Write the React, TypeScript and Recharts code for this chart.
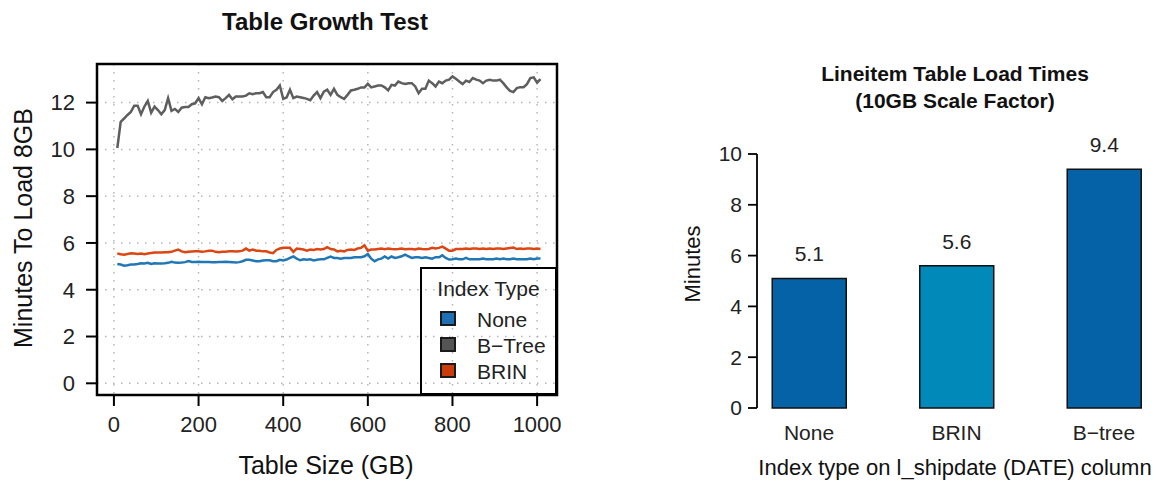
import React from 'react';
import {
  LineChart,
  Line,
  XAxis,
  YAxis,
  CartesianGrid,
  ReferenceArea,
  BarChart,
  Bar,
  Cell,
  LabelList,
} from 'recharts';

// ---------------- data: left chart ----------------
const tableSizes = [
  8, 16, 24, 32, 40, 48, 56, 64, 72, 80, 88, 96, 104, 112, 120, 128, 136, 144, 152, 160,
  168, 176, 184, 192, 200, 208, 216, 224, 232, 240, 248, 256, 264, 272, 280, 288, 296, 304, 312, 320,
  328, 336, 344, 352, 360, 368, 376, 384, 392, 400, 408, 416, 424, 432, 440, 448, 456, 464, 472, 480,
  488, 496, 504, 512, 520, 528, 536, 544, 552, 560, 568, 576, 584, 592, 600, 608, 616, 624, 632, 640,
  648, 656, 664, 672, 680, 688, 696, 704, 712, 720, 728, 736, 744, 752, 760, 768, 776, 784, 792, 800,
  808, 816, 824, 832, 840, 848, 856, 864, 872, 880, 888, 896, 904, 912, 920, 928, 936, 944, 952, 960,
  968, 976, 984, 992, 1000, 1008,
];

const noneMinutes = [
  5.1, 5.08, 5.03, 5.05, 5.08, 5.08, 5.1, 5.13, 5.12, 5.15, 5.1, 5.13, 5.12, 5.12, 5.13, 5.15, 5.19, 5.16, 5.15, 5.16,
  5.18, 5.23, 5.19, 5.19, 5.2, 5.19, 5.19, 5.19, 5.18, 5.18, 5.19, 5.19, 5.2, 5.19, 5.18, 5.16, 5.18, 5.22, 5.28, 5.28,
  5.25, 5.22, 5.22, 5.25, 5.26, 5.26, 5.22, 5.22, 5.28, 5.25, 5.29, 5.36, 5.42, 5.33, 5.26, 5.3, 5.28, 5.3, 5.25, 5.28,
  5.3, 5.3, 5.36, 5.42, 5.36, 5.36, 5.33, 5.36, 5.36, 5.36, 5.39, 5.39, 5.39, 5.43, 5.53, 5.33, 5.22, 5.3, 5.33, 5.42,
  5.33, 5.42, 5.36, 5.39, 5.43, 5.5, 5.43, 5.36, 5.39, 5.39, 5.36, 5.39, 5.36, 5.33, 5.39, 5.39, 5.47, 5.36, 5.29, 5.3,
  5.33, 5.3, 5.3, 5.36, 5.3, 5.3, 5.3, 5.3, 5.33, 5.3, 5.3, 5.3, 5.33, 5.3, 5.33, 5.3, 5.3, 5.33, 5.3, 5.3,
  5.3, 5.3, 5.33, 5.3, 5.33, 5.33,
];

const btreeMinutes = [
  10.06, 11.18, 11.32, 11.47, 11.6, 11.87, 11.87, 11.5, 11.83, 12.07, 11.57, 11.83, 11.68, 11.5, 11.68, 12.19, 11.65, 11.73, 11.6, 11.78,
  11.81, 11.81, 11.93, 11.97, 12.19, 11.93, 12.23, 12.19, 12.22, 12.26, 12.23, 12.07, 12.19, 12.33, 12.14, 12.26, 12.26, 12.26, 12.3, 12.4,
  12.36, 12.4, 12.4, 12.45, 12.23, 12.23, 12.45, 12.55, 12.73, 12.16, 12.22, 12.55, 12.19, 12.26, 12.23, 12.2, 12.16, 12.1, 12.3, 12.45,
  12.19, 12.47, 12.55, 12.33, 12.59, 12.33, 12.23, 12.16, 12.33, 12.52, 12.55, 12.59, 12.65, 12.65, 12.8, 12.65, 12.69, 12.73, 12.73, 12.65,
  12.52, 12.76, 12.73, 12.9, 12.83, 12.8, 12.83, 12.83, 12.69, 12.4, 12.59, 12.59, 12.94, 12.83, 12.69, 12.9, 12.83, 12.94, 12.98, 13.12,
  13.02, 12.9, 12.79, 12.94, 12.88, 13.05, 12.98, 12.94, 12.83, 12.94, 12.98, 12.94, 12.94, 12.98, 12.83, 12.65, 12.5, 12.45, 12.62, 12.66,
  12.66, 12.79, 13.05, 13.08, 12.85, 13.0,
];

const brinMinutes = [
  5.55, 5.52, 5.5, 5.53, 5.56, 5.55, 5.53, 5.55, 5.52, 5.55, 5.57, 5.59, 5.59, 5.59, 5.6, 5.6, 5.62, 5.67, 5.72, 5.64,
  5.6, 5.62, 5.63, 5.64, 5.64, 5.62, 5.64, 5.67, 5.67, 5.62, 5.6, 5.62, 5.62, 5.64, 5.64, 5.63, 5.64, 5.67, 5.76, 5.67,
  5.72, 5.67, 5.67, 5.64, 5.64, 5.59, 5.56, 5.7, 5.76, 5.79, 5.79, 5.79, 5.62, 5.76, 5.74, 5.72, 5.67, 5.72, 5.7, 5.74,
  5.72, 5.74, 5.82, 5.74, 5.72, 5.64, 5.67, 5.64, 5.7, 5.72, 5.7, 5.76, 5.79, 5.9, 5.67, 5.72, 5.72, 5.74, 5.76, 5.73,
  5.76, 5.74, 5.73, 5.74, 5.76, 5.73, 5.74, 5.74, 5.72, 5.76, 5.74, 5.73, 5.74, 5.79, 5.76, 5.79, 5.84, 5.76, 5.67, 5.67,
  5.74, 5.74, 5.74, 5.76, 5.74, 5.76, 5.76, 5.74, 5.76, 5.74, 5.76, 5.74, 5.76, 5.76, 5.74, 5.76, 5.78, 5.8, 5.74, 5.76,
  5.74, 5.76, 5.76, 5.74, 5.76, 5.74,
];

const seriesKeys = ['None', 'BTree', 'BRIN'];
const seriesNames = ['None', 'B\u2212Tree', 'BRIN'];
const sizeTicks = [0, 200, 400, 600, 800, 1000];
const minuteTicks = [0, 2, 4, 6, 8, 10, 12];

// ---------------- data: right chart ----------------
const indexTypes = ['None', 'BRIN', 'B\u2212tree'];
const loadMinutes = [5.1, 5.6, 9.4];
const barMinuteTicks = [0, 2, 4, 6, 8, 10];

// ---------------- styles ----------------
const FONT = '"Liberation Sans", Arial, Helvetica, sans-serif';
const lineColors: Record<string, string> = { None: '#2077b6', BTree: '#5e5e5e', BRIN: '#dc4613' };
const legendFill: Record<string, string> = { None: '#1f6fb3', BTree: '#555555', BRIN: '#cc3b0c' };
const barColors = ['#0562a6', '#0189b9', '#0562a6'];

const lineRows = tableSizes.map((s, i) => ({
  size: s,
  None: noneMinutes[i],
  BTree: btreeMinutes[i],
  BRIN: brinMinutes[i],
}));

const barRows = indexTypes.map((name, i) => ({ pos: i + 1, name, minutes: loadMinutes[i] }));

const T = ({ x, y, size, bold, rotate, children }: any) => (
  <div
    style={{
      position: 'absolute',
      left: x,
      top: y,
      transform: `translate(-50%, -50%)${rotate ? ` rotate(${rotate}deg)` : ''}`,
      fontSize: size,
      fontWeight: bold ? 'bold' : 'normal',
      lineHeight: 1,
      whiteSpace: 'nowrap',
      color: '#111',
      fontFamily: FONT,
    }}
  >
    {children}
  </div>
);

export default function App() {
  return (
    <div
      style={{
        position: 'absolute',
        left: 0,
        top: 0,
        width: 1157,
        height: 482,
        background: '#fff',
        fontFamily: FONT,
        overflow: 'hidden',
      }}
    >
      {/* ---------- left chart ---------- */}
      <div style={{ position: 'absolute', left: 0, top: 0 }}>
        <LineChart
          width={580}
          height={482}
          data={lineRows}
          margin={{ top: 64, right: 23, bottom: 0, left: 0 }}
        >
          <CartesianGrid stroke="#b5b5b5" strokeDasharray="1.5 6.5" strokeWidth={1.5} />
          <XAxis
            type="number"
            dataKey="size"
            domain={[-40, 1047]}
            ticks={sizeTicks}
            interval={0}
            allowDataOverflow
            axisLine={false}
            tickSize={11}
            tickMargin={10}
            height={87}
            tickLine={{ stroke: '#000', strokeWidth: 2 }}
            tick={{ fontSize: 22, fill: '#222', fontFamily: FONT }}
          />
          <YAxis
            type="number"
            domain={[-0.5, 13.65]}
            ticks={minuteTicks}
            interval={0}
            allowDataOverflow
            axisLine={false}
            tickSize={11}
            tickMargin={11}
            width={97}
            tickLine={{ stroke: '#000', strokeWidth: 2 }}
            tick={{ fontSize: 22, fill: '#222', fontFamily: FONT }}
          />
          {seriesKeys.map((k, i) => (
            <Line
              key={k}
              name={seriesNames[i]}
              type="linear"
              dataKey={k}
              stroke={lineColors[k]}
              strokeWidth={2.5}
              dot={false}
              isAnimationActive={false}
            />
          ))}
          <ReferenceArea
            x1={-40}
            x2={1047}
            y1={-0.5}
            y2={13.65}
            fill="none"
            fillOpacity={0}
            stroke="#000"
            strokeWidth={2.5}
            ifOverflow="visible"
          />
        </LineChart>
      </div>

      {/* legend (transparent, grid shows through as in the reference) */}
      <div
        style={{
          position: 'absolute',
          left: 420,
          top: 267,
          width: 137,
          height: 128,
          boxSizing: 'border-box',
          border: '2.5px solid #000',
        }}
      >
        <div
          style={{
            position: 'absolute',
            left: 0,
            width: '100%',
            top: 9,
            textAlign: 'center',
            fontSize: 21,
            lineHeight: 1,
            color: '#222',
          }}
        >
          Index Type
        </div>
        {seriesKeys.map((k, i) => (
          <div key={k}>
            <div
              style={{
                position: 'absolute',
                left: 18,
                top: 42 + i * 26,
                width: 16,
                height: 15,
                boxSizing: 'border-box',
                border: '2px solid #1a1a1a',
                background: legendFill[k],
              }}
            />
            <div
              style={{
                position: 'absolute',
                left: 55,
                top: 40 + i * 26,
                fontSize: 21,
                lineHeight: 1,
                color: '#222',
                whiteSpace: 'nowrap',
              }}
            >
              {seriesNames[i]}
            </div>
          </div>
        ))}
      </div>

      <T x={325} y={22} size={24} bold>
        Table Growth Test
      </T>
      <T x={326} y={465} size={25}>
        Table Size (GB)
      </T>
      <T x={23} y={228} size={25} rotate={-90}>
        Minutes To Load 8GB
      </T>

      {/* ---------- right chart ---------- */}
      <div style={{ position: 'absolute', left: 580, top: 0 }}>
        <BarChart
          width={577}
          height={482}
          data={barRows}
          margin={{ top: 154, right: 7, bottom: 0, left: 0 }}
        >
          <XAxis
            type="number"
            dataKey="pos"
            domain={[0.6475, 3.312]}
            ticks={[1, 2, 3]}
            interval={0}
            allowDataOverflow
            axisLine={false}
            tickLine={false}
            tickSize={0}
            tickMargin={17}
            height={74}
            tickFormatter={(v: number) => indexTypes[v - 1] ?? ''}
            tick={{ fontSize: 21, fill: '#222', fontFamily: FONT }}
          />
          <YAxis
            type="number"
            domain={[0, 10]}
            ticks={barMinuteTicks}
            interval={0}
            width={177}
            tickSize={9}
            tickMargin={6}
            axisLine={{ stroke: '#000', strokeWidth: 1.8 }}
            tickLine={{ stroke: '#000', strokeWidth: 1.8 }}
            tick={{ fontSize: 21, fill: '#222', fontFamily: FONT }}
          />
          <Bar
            dataKey="minutes"
            barSize={74}
            stroke="#111"
            strokeWidth={1.5}
            isAnimationActive={false}
          >
            {barRows.map((r, i) => (
              <Cell key={r.name} fill={barColors[i]} />
            ))}
            <LabelList
              dataKey="minutes"
              position="top"
              offset={17}
              formatter={(v: any) => Number(v).toFixed(1)}
              style={{ fontSize: 21, fill: '#222', fontFamily: FONT }}
            />
          </Bar>
        </BarChart>
      </div>

      <T x={955} y={73} size={21} bold>
        Lineitem Table Load Times
      </T>
      <T x={955} y={100} size={21} bold>
        (10GB Scale Factor)
      </T>
      <T x={955} y={468} size={22}>
        Index type on l_shipdate (DATE) column
      </T>
      <T x={693} y={264} size={22} rotate={-90}>
        Minutes
      </T>
    </div>
  );
}
